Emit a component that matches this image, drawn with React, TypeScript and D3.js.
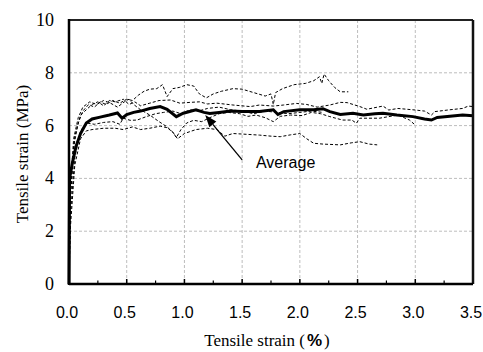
import React from "react";
import * as d3 from "d3";

type Pt = [number, number];

const xTicks = [0, 0.5, 1.0, 1.5, 2.0, 2.5, 3.0, 3.5];
const xMinorTicks = [0.25, 0.75, 1.25, 1.75, 2.25, 2.75, 3.25];
const yTicks = [0, 2, 4, 6, 8, 10];

const averageCurve: Pt[] = [
  [0, 0], [0.005, 4.0], [0.03, 4.6], [0.06, 5.2], [0.1, 5.7], [0.15, 6.1], [0.2, 6.25],
  [0.27, 6.32], [0.35, 6.4], [0.42, 6.48], [0.46, 6.28], [0.5, 6.42], [0.56, 6.5],
  [0.62, 6.55], [0.7, 6.65], [0.79, 6.72], [0.85, 6.62], [0.93, 6.34], [0.99, 6.47],
  [1.1, 6.6], [1.17, 6.5], [1.22, 6.46], [1.3, 6.5], [1.4, 6.55], [1.5, 6.53],
  [1.65, 6.53], [1.77, 6.6], [1.81, 6.42], [1.86, 6.53], [2.0, 6.6], [2.12, 6.6],
  [2.2, 6.64], [2.26, 6.53], [2.35, 6.42], [2.46, 6.47], [2.55, 6.4], [2.65, 6.45],
  [2.72, 6.47], [2.84, 6.4], [2.98, 6.34], [3.08, 6.25], [3.14, 6.21], [3.19, 6.31],
  [3.3, 6.35], [3.41, 6.4], [3.5, 6.37],
];

const specimenA: Pt[] = [
  [0, 0], [0.01, 3.0], [0.04, 5.2], [0.08, 6.1], [0.12, 6.55], [0.17, 6.8], [0.22, 6.7],
  [0.27, 6.9], [0.32, 6.8], [0.38, 6.95], [0.44, 6.85], [0.5, 7.0], [0.55, 6.95],
  [0.6, 7.15], [0.65, 7.3], [0.7, 7.38], [0.76, 7.4], [0.81, 7.55], [0.85, 7.1],
  [0.9, 7.4], [0.96, 7.45], [1.02, 7.55], [1.08, 7.5], [1.13, 7.2], [1.19, 7.05],
  [1.25, 7.2], [1.32, 7.3], [1.42, 7.4], [1.5, 7.38], [1.6, 7.25], [1.7, 7.12],
  [1.75, 7.2], [1.77, 6.8], [1.79, 7.25], [1.85, 7.4], [1.95, 7.55], [2.05, 7.6],
  [2.12, 7.7], [2.17, 7.85], [2.19, 7.6], [2.21, 7.95], [2.25, 7.7], [2.3, 7.45],
  [2.35, 7.28], [2.42, 7.28],
];

const specimenB: Pt[] = [
  [0, 0], [0.01, 3.2], [0.05, 5.6], [0.1, 6.4], [0.15, 6.6], [0.2, 6.8], [0.25, 6.9],
  [0.3, 6.75], [0.35, 6.95], [0.4, 6.9], [0.47, 7.0], [0.52, 6.8], [0.57, 6.9],
  [0.62, 6.75], [0.7, 6.85], [0.78, 6.95], [0.88, 6.97], [0.96, 6.85], [1.05, 6.88],
  [1.13, 6.9], [1.2, 6.82], [1.28, 6.85], [1.42, 6.78], [1.57, 6.72], [1.65, 6.78],
  [1.77, 6.74], [1.86, 6.78], [1.97, 6.84], [2.06, 6.8], [2.15, 6.7], [2.26, 6.78],
  [2.35, 6.88], [2.41, 6.87], [2.52, 6.72], [2.58, 6.62], [2.72, 6.74], [2.77, 6.59],
  [2.85, 6.65], [3.0, 6.59], [3.08, 6.55], [3.14, 6.4], [3.17, 6.53], [3.3, 6.6],
  [3.41, 6.65], [3.46, 6.74], [3.5, 6.72],
];

const specimenC: Pt[] = [
  [0, 0], [0.01, 2.5], [0.05, 4.8], [0.1, 5.8], [0.15, 6.1], [0.22, 6.05], [0.3, 6.12],
  [0.38, 6.15], [0.44, 6.05], [0.47, 6.28], [0.53, 6.2], [0.59, 6.21], [0.67, 6.34],
  [0.75, 6.45], [0.82, 6.5], [0.9, 6.55], [0.97, 6.45], [1.05, 6.6], [1.12, 6.55],
  [1.2, 6.65], [1.3, 6.7], [1.4, 6.6], [1.5, 6.55], [1.6, 6.45], [1.7, 6.55],
  [1.8, 6.5], [1.9, 6.45], [2.0, 6.5], [2.1, 6.55], [2.2, 6.5],
];

const specimenD: Pt[] = [
  [0, 0], [0.01, 3.5], [0.04, 5.5], [0.08, 6.3], [0.12, 6.7], [0.18, 6.9], [0.24, 6.8],
  [0.3, 6.95], [0.36, 6.85], [0.42, 6.7], [0.48, 6.9], [0.52, 7.0], [0.56, 6.8],
  [0.62, 6.6], [0.7, 6.4], [0.78, 6.15], [0.85, 5.95], [0.9, 5.75], [0.93, 5.55],
  [0.97, 5.85], [1.02, 6.1], [1.08, 6.2], [1.15, 6.15], [1.22, 6.3], [1.3, 6.45],
  [1.38, 6.5], [1.48, 6.45], [1.55, 6.35], [1.62, 6.4], [1.7, 6.3], [1.77, 6.15],
  [1.83, 6.35], [1.92, 6.4], [2.02, 6.38], [2.1, 6.5], [2.18, 6.45], [2.26, 6.34],
  [2.37, 6.21], [2.45, 6.21], [2.49, 6.09], [2.52, 6.28], [2.69, 6.28], [2.85, 6.4],
  [2.95, 6.21], [3.0, 6.02],
];

const specimenE: Pt[] = [
  [0, 0], [0.01, 2.0], [0.05, 4.5], [0.1, 5.5], [0.15, 5.8], [0.2, 5.85], [0.3, 5.9],
  [0.4, 5.9], [0.47, 5.85], [0.55, 5.95], [0.62, 5.85], [0.7, 5.9], [0.79, 5.98],
  [0.85, 5.92], [0.9, 5.75], [0.94, 5.5], [1.0, 5.7], [1.1, 5.85], [1.2, 5.9],
  [1.28, 5.85], [1.35, 5.6], [1.42, 5.7], [1.5, 5.68], [1.65, 5.64], [1.75, 5.6],
  [1.83, 5.58], [1.92, 5.65], [2.0, 5.7], [2.06, 5.5], [2.12, 5.33], [2.2, 5.3],
  [2.35, 5.27], [2.45, 5.35], [2.52, 5.39], [2.6, 5.3], [2.67, 5.27],
];

const specimens: Pt[][] = [specimenA, specimenB, specimenC, specimenD, specimenE];

const annotationLabel = "Average";
const arrowTip: Pt = [1.18, 6.4];
const arrowTail: Pt = [1.5, 4.7];
const labelAt: Pt = [1.62, 4.39];

const W = 483;
const H = 352;
const M = { left: 69, right: 473, top: 20, bottom: 284 };

const serif = '"Liberation Serif"';
const sans = '"Liberation Sans"';

export default function App() {
  const x = d3.scaleLinear().domain([0, 3.5]).range([M.left, M.right]);
  const y = d3.scaleLinear().domain([0, 10]).range([M.bottom, M.top]);
  const line = d3
    .line<Pt>()
    .x((d) => x(d[0]))
    .y((d) => y(d[1]));

  const tx = x(arrowTip[0]);
  const ty = y(arrowTip[1]);
  const sx = x(arrowTail[0]);
  const sy = y(arrowTail[1]);
  const ang = Math.atan2(ty - sy, tx - sx);
  const hl = 12;
  const hw = 4.5;
  const bx = tx - hl * Math.cos(ang);
  const by = ty - hl * Math.sin(ang);
  const head = `M${tx},${ty} L${bx + hw * Math.sin(ang)},${by - hw * Math.cos(ang)} L${bx - hw * Math.sin(ang)},${by + hw * Math.cos(ang)} Z`;

  return (
    <svg
      width={W}
      height={H}
      style={{ position: "absolute", left: 0, top: 0, background: "#fff" }}
    >
      <rect x={0} y={0} width={W} height={H} fill="#fff" />
      {xTicks.slice(1, -1).map((t) => (
        <line
          key={"gx" + t}
          x1={x(t)}
          x2={x(t)}
          y1={M.top}
          y2={M.bottom}
          stroke="#bdbdbd"
          strokeWidth={1}
          strokeDasharray="3,2"
        />
      ))}
      {yTicks.slice(1, -1).map((t) => (
        <line
          key={"gy" + t}
          x1={M.left}
          x2={M.right}
          y1={y(t)}
          y2={y(t)}
          stroke="#bdbdbd"
          strokeWidth={1}
          strokeDasharray="3,2"
        />
      ))}
      {specimens.map((s, i) => (
        <path
          key={"s" + i}
          d={line(s) || ""}
          fill="none"
          stroke="#000"
          strokeWidth={1}
          strokeDasharray="3,2"
        />
      ))}
      <path d={line(averageCurve) || ""} fill="none" stroke="#000" strokeWidth={3} />
      <line x1={sx} y1={sy} x2={bx} y2={by} stroke="#000" strokeWidth={1.3} />
      <path d={head} fill="#000" />
      <text x={x(labelAt[0])} y={y(labelAt[1])} fontFamily={sans} fontSize={16} fill="#000">
        {annotationLabel}
      </text>
      {xTicks.slice(1, -1).map((t) => (
        <line key={"tx" + t} x1={x(t)} x2={x(t)} y1={M.bottom} y2={M.bottom - 5} stroke="#000" strokeWidth={1.5} />
      ))}
      {xMinorTicks.map((t) => (
        <line key={"tm" + t} x1={x(t)} x2={x(t)} y1={M.bottom} y2={M.bottom - 3.5} stroke="#000" strokeWidth={1.2} />
      ))}
      <line x1={M.left} x2={M.right} y1={M.top} y2={M.top} stroke="#222" strokeWidth={2} />
      <line x1={M.right} x2={M.right} y1={M.top} y2={M.bottom} stroke="#111" strokeWidth={2.5} />
      <line x1={M.left} x2={M.right} y1={M.bottom} y2={M.bottom} stroke="#000" strokeWidth={2.5} />
      <line x1={M.left} x2={M.left} y1={M.top - 1} y2={M.bottom + 1} stroke="#000" strokeWidth={2.5} />
      {yTicks.map((t) => (
        <text
          key={"ly" + t}
          x={M.left - 15}
          y={y(t) + 6}
          textAnchor="end"
          fontFamily={serif}
          fontSize={18}
          fill="#000"
        >
          {t}
        </text>
      ))}
      {xTicks.map((t) => (
        <text
          key={"lx" + t}
          x={x(t) - 2}
          y={318}
          textAnchor="middle"
          fontFamily={sans}
          fontSize={16}
          fill="#000"
        >
          {t.toFixed(1)}
        </text>
      ))}
      <text x={267} y={346} textAnchor="middle" fontFamily={serif} fontSize={17} fill="#000">
        Tensile strain (<tspan dx={2} fontFamily={sans} fontWeight="bold">%</tspan><tspan dx={2}>)</tspan>
      </text>
      <text
        transform={`translate(28,${(M.top + M.bottom) / 2 + 2}) rotate(-90)`}
        textAnchor="middle"
        fontFamily={serif}
        fontSize={17}
        fill="#000"
      >
        Tensile strain (MPa)
      </text>
    </svg>
  );
}
